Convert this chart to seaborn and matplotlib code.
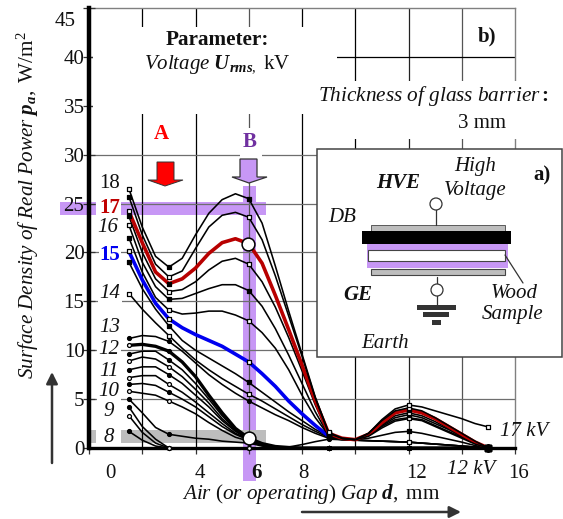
import numpy as np
import pandas as pd
import matplotlib
matplotlib.use("Agg")
import matplotlib.pyplot as plt
from matplotlib.patches import Rectangle, Polygon, Circle
import seaborn as sns

sns.set_theme(style="white")
plt.rcParams['font.family'] = ['Liberation Serif', 'DejaVu Serif']
plt.rcParams['mathtext.fontset'] = 'custom'
plt.rcParams['mathtext.rm'] = 'Liberation Serif'
plt.rcParams['mathtext.it'] = 'Liberation Serif:italic'
plt.rcParams['mathtext.bf'] = 'Liberation Serif:bold'
plt.rcParams['mathtext.bfit'] = 'Liberation Serif:italic:bold'

# Air gap, mm
gap = [1.5, 2, 2.5, 3, 3.5, 4, 4.5, 5, 5.5, 6, 6.5, 7, 7.5, 8, 8.5, 9,
       9.5, 10, 10.5, 11, 11.5, 12, 12.5, 13, 13.5, 14, 14.5, 15]
measured_gap = [1.5, 3, 6, 9, 12, 15]

# Tails of the curves from 9.5 mm on
tail_18 = [1.0, .85, 1.5, 2.9, 4.0, 4.4, 4.2, 3.8, 3.4, 3.0, 2.5, 2.15]
tail_175 = [1.0, .85, 1.5, 2.8, 3.8, 4.1, 3.8, 3.1, 2.3, 1.5, .7, 0]
tail_17 = [1.0, .85, 1.4, 2.6, 3.6, 3.9, 3.6, 3.0, 2.2, 1.4, .6, 0]
tail_165 = [1.0, .85, 1.35, 2.4, 3.3, 3.6, 3.3, 2.7, 2.0, 1.3, .6, 0]
tail_16 = [1.0, .85, 1.3, 2.3, 3.1, 3.4, 3.1, 2.5, 1.9, 1.2, .5, 0]
tail_155 = [.95, .85, 1.25, 2.2, 2.9, 3.1, 2.9, 2.3, 1.7, 1.1, .5, 0]
tail_15 = [.95, .85, 1.2, 2.05, 2.75, 3.0, 2.8, 2.2, 1.6, 1.0, .4, 0]
tail_145 = [.9, .85, 1.0, 1.3, 1.6, 1.7, 1.5, 1.2, .9, .6, .25, 0]
tail_low = [.85, .8, .75, .7, .65, .6, .5, .4, .3, .2, .1, 0]
tail_zero = [0, 0, 0, 0, 0, 0, 0, 0, 0, 0, 0, 0]

# Real power density, W/m2, per voltage
p18 = [26.5, 22.6, 19.6, 18.5, 19.4, 21.8, 24.0, 25.4, 26.0, 25.5, 23.0, 18.6, 14.0, 9.6, 5.2, 1.6] + tail_18
p175 = [25.7, 21.8, 18.8, 17.5, 18.1, 20.4, 22.6, 23.8, 24.1, 23.6, 21.3, 17.6, 13.5, 9.4, 5.1, 1.5] + tail_175
p17 = [24.2, 21.0, 18.0, 16.8, 17.3, 18.4, 19.9, 21.0, 21.4, 20.9, 18.9, 15.6, 12.1, 8.5, 4.8, 1.5] + tail_17
p165 = [23.7, 20.0, 17.3, 16.0, 16.2, 17.0, 18.2, 19.1, 19.4, 18.8, 17.0, 14.4, 11.3, 7.9, 4.4, 1.4] + tail_165
p16 = [22.8, 19.0, 16.5, 15.2, 15.3, 15.8, 16.3, 16.7, 16.7, 16.1, 14.5, 12.2, 9.5, 6.6, 3.7, 1.3] + tail_16
p155 = [21.5, 18.0, 15.4, 14.1, 13.7, 13.8, 14.0, 14.0, 13.6, 13.0, 11.8, 10.2, 8.0, 5.4, 3.1, 1.3] + tail_155
p15 = [20.1, 17.2, 14.8, 13.2, 12.3, 11.6, 11.0, 10.4, 9.6, 8.8, 7.6, 6.3, 4.8, 3.5, 2.3, 1.2]
p15_rest = tail_15
p145 = [19.0, 16.3, 14.2, 12.5, 11.0, 10.0, 9.2, 8.4, 7.6, 6.7, 5.7, 4.7, 3.7, 2.8, 1.9, 1.2] + tail_145
p14 = [15.8, 14.2, 12.8, 11.5, 10.2, 9.0, 8.0, 7.1, 6.3, 5.5, 4.8, 4.0, 3.2, 2.4, 1.7, 1.1] + tail_low
p13 = [11.2, 11.5, 11.4, 10.9, 9.9, 8.7, 7.5, 6.5, 5.6, 4.8, 4.1, 3.4, 2.8, 2.1, 1.5, 1.0] + tail_low
p125 = [10.5, 10.6, 10.4, 9.9, 8.8, 7.3, 5.4, 3.6, 2.0, 1.0, .45, .15, .05, 0, 0, 0] + tail_zero
p12 = [9.6, 9.9, 9.9, 9.0, 8.0, 6.6, 5.0, 3.3, 1.9, 1.0, .4, .1, .1, .35, .65, .9] + tail_low
p115 = [8.9, 9.3, 9.1, 8.3, 7.3, 6.0, 4.6, 3.0, 1.8, 1.0, .4, .1, 0, 0, 0, 0] + tail_zero
p11 = [8.0, 8.3, 8.3, 7.5, 6.6, 5.4, 4.2, 2.8, 1.7, .9, .35, .1, 0, 0, 0, 0] + tail_zero
p105 = [7.2, 7.4, 7.4, 6.5, 5.7, 4.7, 3.6, 2.5, 1.5, .9, .3, .1, 0, 0, 0, 0] + tail_zero
p10 = [6.5, 6.6, 6.4, 5.7, 5.0, 4.2, 3.2, 2.2, 1.4, .8, .3, .1, 0, 0, 0, 0] + tail_zero
p95 = [5.8, 5.6, 5.4, 4.8, 4.2, 3.5, 2.6, 1.8, 1.1, .7, .25, .05, 0, 0, 0, 0] + tail_zero
p9 = [5.0, 3.6, 2.1, 1.4, 1.2, 1.0, .9, .7, .6, .5, .2, .05, 0, 0, 0, 0] + tail_zero
p85 = [4.2, 2.2, .9, 0, 0, 0, 0, 0, 0, 0, 0, 0, 0, 0, 0, 0] + tail_zero
p8 = [3.3, 1.6, .5, 0, 0, 0, 0, 0, 0, 0, 0, 0, 0, 0, 0, 0] + tail_zero
p75 = [1.7, .8, .2, 0, 0, 0, 0, 0, 0, 0, 0, 0, 0, 0, 0, 0] + tail_zero

names = ['7.5', '8', '8.5', '9', '9.5', '10', '10.5', '11', '11.5', '12', '12.5', '13',
         '14', '14.5', '15', '15.5', '16', '16.5', '17', '17.5', '18']
curves = [p75, p8, p85, p9, p95, p10, p105, p11, p115, p12, p125, p13,
          p14, p145, p15, p155, p16, p165, p17, p175, p18]

# marker looks: shape, filled at 1.5 mm, filled further on
shapes = ['o'] * 12 + ['s'] * 9
filled_start = [1, 0, 1, 1, 0, 1, 0, 1, 0, 1, 0, 1, 0, 1, 0, 1, 0, 1, 0, 1, 0]
filled_later = [0, 0, 0, 1, 0, 1, 0, 1, 0, 1, 1, 1, 0, 1, 0, 0, 1, 0, 1, 0, 1]

highlight_gap = [5.97, 6.0]
highlight_power = [20.9, 1.0]

# Long table for seaborn
rows = []
for name, vals in zip(names, curves):
    for d, v in zip(gap, vals):
        rows.append((name, d, v))
for d, v in zip(gap[16:], p15_rest):
    rows.append(('15 rest', d, v))
df = pd.DataFrame(rows, columns=['kv', 'gap', 'power'])

colors = {n: 'black' for n in df['kv'].unique()}
colors['17'] = '#B80000'
colors['15'] = '#0000F0'
widths = {n: 1.15 for n in df['kv'].unique()}
widths['17'] = 2.6
widths['15'] = 2.6
widths['12.5'] = 2.4

W, H = 563, 519
fig = plt.figure(figsize=(W / 100, H / 100), dpi=100, facecolor='white')

# pixel axes under and over the plot
under = fig.add_axes([0, 0, 1, 1], zorder=0)
under.set_xlim(0, W)
under.set_ylim(H, 0)
under.axis('off')
over = fig.add_axes([0, 0, 1, 1], zorder=2)
over.set_xlim(0, W)
over.set_ylim(H, 0)
over.axis('off')
over.patch.set_alpha(0)

ax = fig.add_axes([89 / W, (H - 448) / H, (515 - 89) / W, 440 / H], zorder=1)
ax.patch.set_alpha(0)
ax.set_xlim(0, 16)
ax.set_ylim(0, 45)

# Bands
purple = '#C797F5'
under.add_patch(Rectangle((243, 186), 13, 295, color=purple, lw=0))
under.add_patch(Rectangle((60, 202), 206, 13, color=purple, lw=0))
under.add_patch(Rectangle((91, 430), 175, 13, color='#BDBDBD', lw=0))

# Grid
x_grid = [2, 4, 6, 8, 10, 12, 14]
x_grid_colors = ['black', 'black', '#555555', 'black', 'black', '#222222', '#555555']
for x, c in zip(x_grid, x_grid_colors):
    ax.axvline(x, color=c, lw=0.9, zorder=0.5)
for y in [5, 10, 15, 20, 25, 30, 35]:
    ax.axhline(y, color='#6E6E6E', lw=0.9, zorder=0.5)
ax.axhline(40, color='black', lw=0.9, zorder=0.5)

# white areas that break the grid
for x0, y0, w, h in [(93, 27, 244, 87), (320, 81, 200, 58), (240, 128, 22, 31)]:
    ax.add_patch(Rectangle((x0, y0), w, h, color='white', lw=0, zorder=1,
                           transform=under.transData, clip_on=False))

sns.lineplot(data=df, x='gap', y='power', hue='kv', palette=colors, size='kv', sizes=widths,
             estimator=None, sort=False, legend=False, ax=ax, zorder=2)

# Markers at the measured gaps
for name, vals, shape, fs, fl in zip(names, curves, shapes, filled_start, filled_later):
    for d, v in zip(gap, vals):
        if d in measured_gap:
            fill = fs if d == 1.5 else fl
            size = 11 if shape == 's' else 8
            if d >= 9 and name == '18':
                fill = 0
            if d == 15 and v == 0:
                fill = 1
                size = 20
            ax.scatter(d, v, marker=shape, s=size, lw=0.9, clip_on=False, zorder=3,
                       facecolor='black' if fill else 'white', edgecolor='black')
ax.scatter(highlight_gap, highlight_power, s=85, facecolor='white', edgecolor='black',
           lw=1.1, zorder=4, clip_on=False)

# Axes look
ax.set_xlabel('')
ax.set_ylabel('')
for s in ['top', 'right']:
    ax.spines[s].set_color('#808080')
    ax.spines[s].set_linewidth(1.0)
    ax.spines[s].set_zorder(0.5)
ax.spines['left'].set_color('black')
ax.spines['left'].set_linewidth(3.2)
ax.spines['bottom'].set_color('black')
ax.spines['bottom'].set_linewidth(2.4)
y_ticks = list(range(0, 50, 5))
ax.set_yticks(y_ticks)
ax.set_yticklabels([str(v) if v != 45 else '' for v in y_ticks])
ax.set_xticks(range(0, 18, 2))
ax.set_xticklabels([])
ax.tick_params(axis='y', direction='inout', length=8.5, width=0.9, color='#333333',
               labelsize=15, pad=-1, left=True, labelcolor='#111111')
ax.tick_params(axis='x', direction='out', length=4.5, width=0.9, color='#333333', bottom=True)


def put(x, y, s, size=15, **kw):
    kw.setdefault('ha', 'center')
    kw.setdefault('va', 'center')
    kw.setdefault('color', '#111111')
    return over.text(x, y, s, fontsize=size, **kw)


put(65, 22, '45')

# x tick labels sit off the ticks
x_labels = ['0', '4', '8', '12', '16']
x_label_px = [110, 200, 303, 417, 519]
for x, s in zip(x_label_px, x_labels):
    put(x, 473, s)
put(256, 473, '6', fontweight='bold')

put(311, 494, r'$\mathit{Air\ (or\ operating)\ Gap}\ \mathbfit{d},\ \mathrm{mm}$', size=15.2)
put(28, 205, r'$\mathit{Surface\ Density\ of\ Real\ Power}\ \mathbfit{p}_{\mathbfit{a}},\ \mathrm{W/m}^{2}$',
    size=15.2, rotation=90)

# Voltage labels
over.add_patch(Rectangle((96, 200), 25, 17, facecolor='white', lw=0))
over.add_patch(Rectangle((96, 428), 25, 17, facecolor='white', lw=0))
white = dict(facecolor='white', edgecolor='none', pad=0.8)
label_text = ['18', '16', '14', '13', '12', '11', '10', '9', '8']
label_y = [184, 227, 294, 327, 350, 372, 392, 412, 437]
label_x = [110, 108, 110, 110, 109, 109, 109, 109, 109]
for x, y, s in zip(label_x, label_y, label_text):
    put(x, y, s, style='normal' if s == '18' else 'italic', bbox=None if s == '8' else white)
put(110, 208, '17', color='#C00000', fontweight='bold')
put(110, 255, '15', color='#0000F0', fontweight='bold', bbox=white)

put(524, 431, '17 kV', style='italic')
put(471, 469, '12 kV', style='italic')

put(217, 40, 'Parameter:', fontweight='bold', size=15.2)
put(217, 65, r'$\mathit{Voltage}\ \mathbfit{U}_{\mathbfit{rms},}\ \mathrm{kV}$')
put(487, 36, 'b)', fontweight='bold')
put(433, 96, r'$\mathit{Thickness\ of\ glass\ barrier}\mathbf{:}$', size=15.3)
put(482, 123, '3 mm')
put(161, 134, 'A', color='#FF0000', fontweight='bold')
put(250, 142, 'B', color='#7030A0', fontweight='bold')

# A and B arrows
over.add_patch(Polygon([(157, 162), (174, 162), (174, 180), (183, 180), (165, 186), (148, 180), (157, 180)],
                       facecolor='#FF0000', edgecolor='#333333', lw=0.7))
over.add_patch(Polygon([(240, 159), (257, 159), (257, 177), (267, 177), (249, 183), (232, 177), (240, 177)],
                       facecolor=purple, edgecolor='#333333', lw=0.9))

# Direction arrows
arrow = dict(arrowstyle='-|>', color='#333333', lw=1.8, mutation_scale=17, shrinkA=0, shrinkB=0)
over.annotate('', xy=(52, 372), xytext=(52, 463), arrowprops=arrow)
over.annotate('', xy=(461, 512), xytext=(302, 512), arrowprops=arrow)

# Panel a)
over.add_patch(Rectangle((317, 149), 245, 208, facecolor='white', edgecolor='#444444', lw=1.1))
over.add_patch(Rectangle((371, 225), 134, 6, facecolor='#BDBDBD', edgecolor='#444444', lw=0.6))
over.add_patch(Rectangle((367, 244), 141, 24, facecolor=purple, lw=0))
over.add_patch(Rectangle((362, 231), 149, 13, facecolor='black', lw=0))
over.add_patch(Rectangle((368, 250), 137, 11, facecolor='white', edgecolor='#444444', lw=0.8))
over.add_patch(Rectangle((371, 269), 134, 6, facecolor='#BDBDBD', edgecolor='#444444', lw=0.8))
over.plot([436, 436], [209, 225], color='#333333', lw=0.9)
over.plot([437, 437], [277, 305], color='#333333', lw=0.9)
over.plot([505, 523], [255, 283], color='#333333', lw=0.9)
over.add_patch(Circle((436, 204), 6, facecolor='white', edgecolor='#333333', lw=0.9, zorder=3))
over.add_patch(Circle((437, 290), 6, facecolor='white', edgecolor='#333333', lw=0.9, zorder=3))
for x0, y0, w, h in [(417, 305, 39, 5), (423, 312, 26, 5), (432, 320, 9, 5)]:
    over.add_patch(Rectangle((x0, y0), w, h, facecolor='#333333', lw=0))

put(398, 183, 'HVE', fontweight='bold', style='italic')
put(342, 217, 'DB', style='italic')
put(475, 167, 'High', style='italic')
put(475, 190, 'Voltage', style='italic')
put(542, 175, 'a)', fontweight='bold')
put(358, 295, 'GE', fontweight='bold', style='italic')
put(514, 293, 'Wood', style='italic')
put(513, 314, 'Sample', style='italic')
put(385, 344, 'Earth', style='italic')

fig.savefig('out.png', dpi=100)
